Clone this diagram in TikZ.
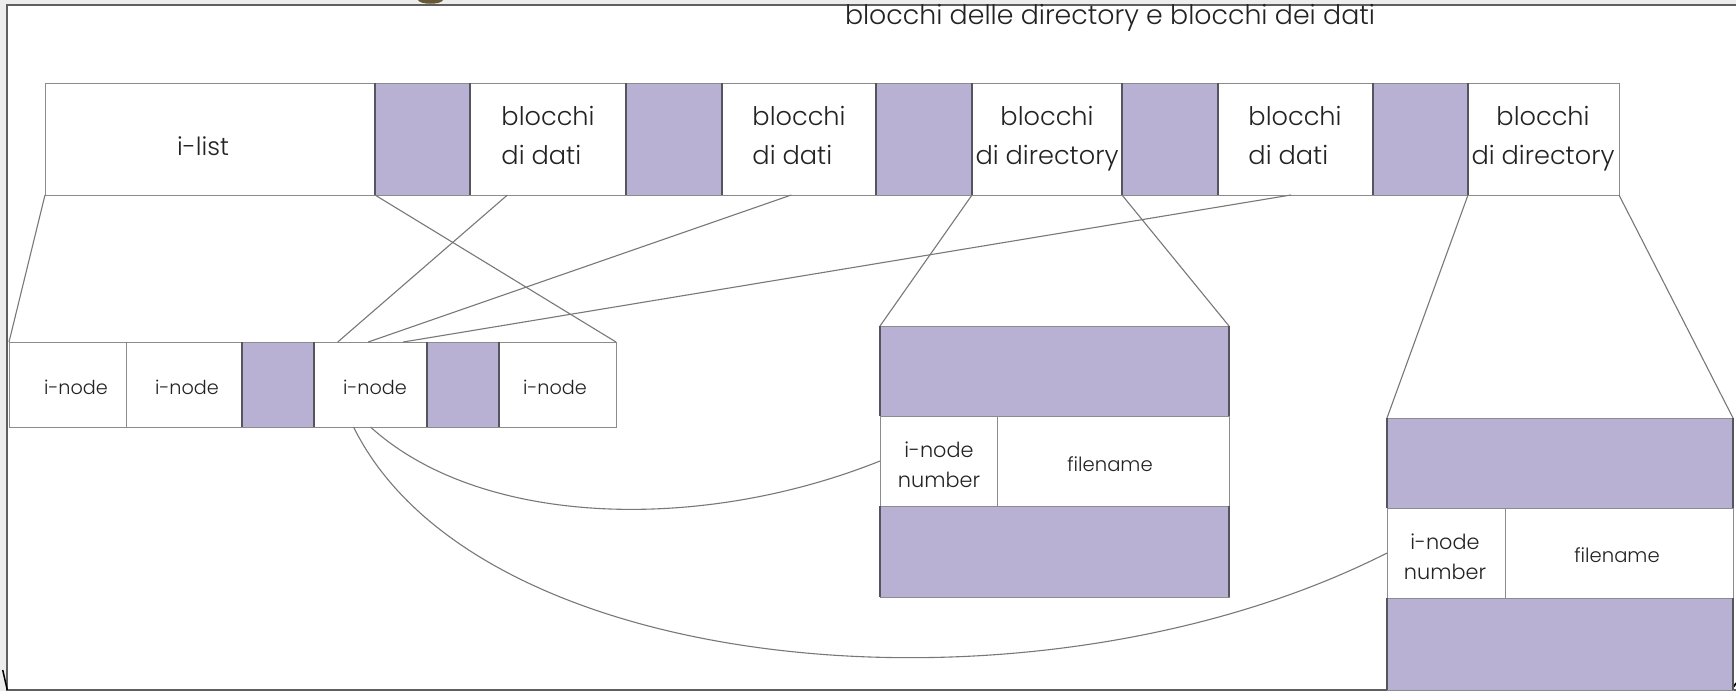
\documentclass[tikz,border=0pt]{standalone}
\usepackage{fontspec}
\setmainfont{Poppins}[UprightFont={* Light}]
\usetikzlibrary{fit,calc}

\definecolor{lav}{RGB}{185,177,212}
\definecolor{edgegray}{RGB}{140,140,140}
\definecolor{edgedark}{RGB}{85,85,95}
\definecolor{wiregray}{RGB}{120,120,120}
\definecolor{ink}{RGB}{35,35,35}
\definecolor{paper}{RGB}{237,237,237}
\definecolor{framegray}{RGB}{95,95,95}
\definecolor{blob}{RGB}{105,90,55}

\newcommand\lbltitle{\fontsize{13.4}{19}\selectfont}
\newcommand\lblbig{\fontsize{12.8}{19.5}\selectfont}
\newcommand\lblmid{\fontsize{10.4}{15}\selectfont}
\newcommand\lblfile{\fontsize{9.8}{14}\selectfont}
\newcommand\lblsmall{\fontsize{9.6}{13}\selectfont}

\tikzset{
  cell/.style={draw=edgegray, line width=0.5pt, fill=white, inner sep=0pt, outer sep=0pt},
  fillcell/.style={draw=edgegray, line width=0.5pt, fill=lav, inner sep=0pt, outer sep=0pt,
    append after command={
      (\tikzlastnode.north west) edge[draw=edgedark, line width=0.9pt] (\tikzlastnode.south west)
      (\tikzlastnode.north east) edge[draw=edgedark, line width=0.9pt] (\tikzlastnode.south east)}},
  wire/.style={draw=wiregray, line width=0.55pt},
  lbl/.style={text=ink, inner sep=0pt, outer sep=0pt},
}

\begin{document}
\begin{tikzpicture}[x=0.5pt, y=-0.5pt]
\useasboundingbox (0,0) rectangle (1736,691);

% page background and slide frame
\fill[paper] (0,0) rectangle (1736,691);
\fill[white] (7,5) rectangle (1736,690);
\fill[blob] (418,0) .. controls (420,5) and (441,5) .. (443,0) -- cycle;
\draw[framegray, line width=1pt] (1736,5) -- (7,5) -- (7,690) -- (1736,690);
\draw[black, line width=0.75pt] (2.7,670) -- (7.3,690);
\draw[black, line width=0.8pt] (1722,690) .. controls (1730,690) and (1734,688) .. (1736,683);

% title
\node[lbl, font=\lbltitle, anchor=base west] (title) at (845,24) {blocchi delle directory e blocchi dei dati};

% disk layout: i-list followed by directory and data blocks
\node[cell, fit={(45,83) (375,195)}] (ilist) {};
\node[cell, fit={(470,83) (626,195)}] (d1) {};
\node[cell, fit={(722,83) (876,195)}] (d2) {};
\node[cell, fit={(972,83) (1122,195)}] (dir1) {};
\node[cell, fit={(1218,83) (1373,195)}] (d3) {};
\node[cell, fit={(1468,83) (1619,195)}] (dir2) {};
\node[fillcell, fit={(375,83) (470,195)}] (p1) {};
\node[fillcell, fit={(626,83) (722,195)}] (p2) {};
\node[fillcell, fit={(876,83) (972,195)}] (p3) {};
\node[fillcell, fit={(1122,83) (1218,195)}] (p4) {};
\node[fillcell, fit={(1373,83) (1468,195)}] (p5) {};

\node[lbl, font=\fontsize{12.5}{18}\selectfont, anchor=base] (tilist) at (203,155) {i-list};
\node[lbl, font=\lblbig, align=left, anchor=north] (td1) at (548,106) {blocchi\\di dati};
\node[lbl, font=\lblbig, align=left, anchor=north] (td2) at (799,106) {blocchi\\di dati};
\node[lbl, font=\lblbig, align=center, anchor=north] (tdir1) at (1047,106) {blocchi\\di directory};
\node[lbl, font=\lblbig, align=left, anchor=north] (td3) at (1295,106) {blocchi\\di dati};
\node[lbl, font=\lblbig, align=center, anchor=north] (tdir2) at (1543,106) {blocchi\\di directory};

% i-list expanded into i-nodes
\node[cell, fit={(9,342) (126,427)}] (inA) {};
\node[cell, fit={(126,342) (242,427)}] (inB) {};
\node[cell, fit={(314,342) (427,427)}] (inC) {};
\node[cell, fit={(499,342) (616,427)}] (inD) {};
\node[fillcell, fit={(242,342) (314,427)}] (q1) {};
\node[fillcell, fit={(427,342) (499,427)}] (q2) {};

\node[lbl, font=\lblsmall, anchor=base] (tinA) at (76,394) {i-node};
\node[lbl, font=\lblsmall, anchor=base] (tinB) at (187,394) {i-node};
\node[lbl, font=\lblsmall, anchor=base] (tinC) at (375,394) {i-node};
\node[lbl, font=\lblsmall, anchor=base] (tinD) at (555,394) {i-node};

% first directory block expanded
\node[fillcell, fit={(880,326) (1229,416)}] (top1) {};
\node[cell, fit={(880,416) (997,506)}] (num1) {};
\node[cell, fit={(997,416) (1229,506)}] (fn1) {};
\node[fillcell, fit={(880,506) (1229,597)}] (bot1) {};
\node[lbl, font=\lblmid, align=center, anchor=north] (tnum1) at (939,442) {i-node\\number};
\node[lbl, font=\lblfile, anchor=base] (tfn1) at (1110,471) {filename};

% second directory block expanded
\node[fillcell, fit={(1387,418) (1733,508)}] (top2) {};
\node[cell, fit={(1387,508) (1505,598)}] (num2) {};
\node[cell, fit={(1505,508) (1733,598)}] (fn2) {};
\node[fillcell, fit={(1387,598) (1733,690)}] (bot2) {};
\node[lbl, font=\lblmid, align=center, anchor=north] (tnum2) at (1445,534) {i-node\\number};
\node[lbl, font=\lblfile, anchor=base] (tfn2) at (1617,562) {filename};

% expansion lines
\draw[wire] (ilist.south west) -- (inA.north west);
\draw[wire] (ilist.south east) -- (inD.north east);
\draw[wire] (dir1.south west) -- (top1.north west);
\draw[wire] (dir1.south east) -- (top1.north east);
\draw[wire] (dir2.south west) -- (top2.north west);
\draw[wire] (dir2.south east) -- (top2.north east);

% data blocks referenced by the i-node
\draw[wire] ($(d1.south west)!0.24!(d1.south east)$) -- ($(inC.north west)!0.21!(inC.north east)$);
\draw[wire] ($(d2.south west)!0.45!(d2.south east)$) -- ($(inC.north west)!0.48!(inC.north east)$);
\draw[wire] ($(d3.south west)!0.47!(d3.south east)$) -- ($(inC.north west)!0.79!(inC.north east)$);

% directory entries pointing back to the i-node
\draw[wire] ($(inC.south west)!0.5!(inC.south east)$) .. controls +(110,100) and +(-180,72) .. (num1.west);
\draw[wire] ($(inC.south west)!0.35!(inC.south east)$) .. controls +(126,255) and +(-345,175) .. (num2.west);
\end{tikzpicture}
\end{document}
